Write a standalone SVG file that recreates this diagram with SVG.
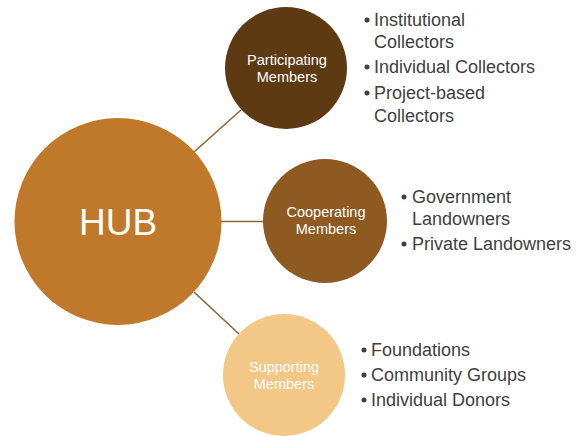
<svg xmlns="http://www.w3.org/2000/svg" width="576" height="436" viewBox="0 0 576 436">
  <style>
    .lbl { font-family: "Liberation Sans", Arial, sans-serif; font-size: 14.5px; fill: #ffffff; text-anchor: middle; }
    .hub { font-family: "Liberation Sans", Arial, sans-serif; font-size: 37px; fill: #ffffff; text-anchor: middle; }
    .item { font-family: "Liberation Sans", Arial, sans-serif; font-size: 18px; fill: #404040; }
    .dot { fill: #404040; }
    .conn { stroke: #8C6635; stroke-width: 1.6; fill: none; }
  </style>
  <rect width="576" height="436" fill="#ffffff"/>
  <g id="connectors">
    <line class="conn" x1="194" y1="152" x2="241" y2="110"/>
    <line class="conn" x1="221" y1="221.5" x2="263" y2="221.5"/>
    <line class="conn" x1="194" y1="292" x2="239" y2="334"/>
  </g>
  <g id="hub">
    <circle cx="118" cy="221.5" r="103.5" fill="#C0782B"/>
    <text class="hub" x="118" y="235">HUB</text>
  </g>
  <g id="participating">
    <circle cx="286" cy="68" r="61" fill="#5E3A13"/>
    <text class="lbl" x="287" y="65">Participating</text>
    <text class="lbl" x="287" y="82">Members</text>
  </g>
  <g id="cooperating">
    <circle cx="325" cy="221" r="62" fill="#8E5A21"/>
    <text class="lbl" x="326" y="217">Cooperating</text>
    <text class="lbl" x="326" y="234">Members</text>
  </g>
  <g id="supporting">
    <circle cx="284" cy="375" r="61" fill="#F3C785"/>
    <text class="lbl" x="284" y="372">Supporting</text>
    <text class="lbl" x="284" y="389">Members</text>
  </g>
  <g id="participating-list">
    <circle class="dot" cx="367" cy="20" r="2.5"/>
    <text class="item" x="374" y="26">Institutional</text>
    <text class="item" x="374" y="48">Collectors</text>
    <circle class="dot" cx="367" cy="67" r="2.5"/>
    <text class="item" x="374" y="73">Individual Collectors</text>
    <circle class="dot" cx="367" cy="93" r="2.5"/>
    <text class="item" x="374" y="99">Project-based</text>
    <text class="item" x="374" y="122">Collectors</text>
  </g>
  <g id="cooperating-list">
    <circle class="dot" cx="404" cy="197" r="2.5"/>
    <text class="item" x="412" y="203">Government</text>
    <text class="item" x="412" y="225">Landowners</text>
    <circle class="dot" cx="404" cy="244" r="2.5"/>
    <text class="item" x="412" y="250">Private Landowners</text>
  </g>
  <g id="supporting-list">
    <circle class="dot" cx="364" cy="350" r="2.5"/>
    <text class="item" x="371" y="356">Foundations</text>
    <circle class="dot" cx="364" cy="375" r="2.5"/>
    <text class="item" x="371" y="381">Community Groups</text>
    <circle class="dot" cx="364" cy="400" r="2.5"/>
    <text class="item" x="371" y="406">Individual Donors</text>
  </g>
</svg>
